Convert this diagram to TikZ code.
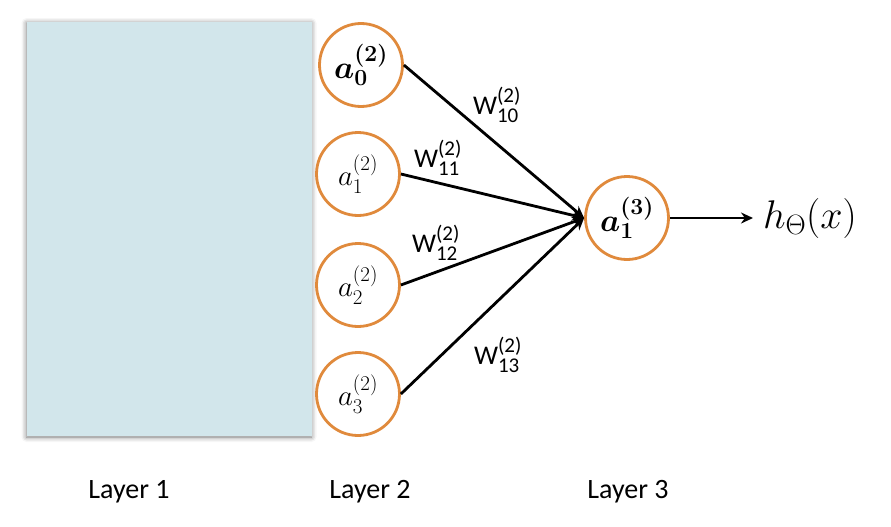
\RequirePackage{fix-cm}
\documentclass[tikz,border=0pt]{standalone}
\usepackage{amsmath}
\usepackage{bm}
\usepackage{fontspec}
\setmainfont{Carlito}
\usetikzlibrary{arrows.meta,shadows.blur}
\DeclareMathSizes{27}{27}{21}{16}
\DeclareMathSizes{29}{29}{21}{16}
\DeclareMathSizes{32}{32}{23}{18}
\DeclareMathSizes{40}{40}{28}{20}
\definecolor{boxfill}{HTML}{D2E6EB}
\definecolor{neuron}{HTML}{E08A3C}
\tikzset{
  unit/.style={circle, draw=neuron, line width=2.8pt, fill=white, minimum size=83pt, inner sep=0pt},
  mathtxt/.style={font=\fontsize{29}{29}\selectfont},
  boldtxt/.style={font=\fontsize{32}{32}\selectfont},
  wlab/.style={font=\fontsize{27}{27}\selectfont, inner sep=0pt},
  layerlab/.style={font=\fontsize{28}{28}\selectfont, inner sep=0pt},
  edge/.style={line width=2.8pt, -{Stealth[length=12pt,width=11pt]}},
  layerbox/.style={fill=boxfill, blur shadow={shadow xshift=-0.5pt, shadow yshift=-1pt, shadow blur radius=5pt, shadow opacity=55}}
}
\begin{document}
\begin{tikzpicture}[x=1pt,y=-1pt]
\useasboundingbox (0,0) rectangle (891,527);
\path[layerbox] (27,22) rectangle (312,436);

\node[unit, boldtxt] (a0) at (361,65) {$\bm{a}_{\bm{0}}^{\bm{(2)}}$};
\node[unit, mathtxt] (a1) at (358,174) {$a_1^{(2)}$};
\node[unit, mathtxt] (a2) at (358,285) {$a_2^{(2)}$};
\node[unit, mathtxt] (a3) at (358,394) {$a_3^{(2)}$};
\node[unit, boldtxt] (o) at (627,218) {$\bm{a}_{\bm{1}}^{\bm{(3)}}$};

\node[anchor=west, inner sep=0pt, outer xsep=10pt, font=\fontsize{40}{40}\selectfont] (hx) at (753,218) {$h_\Theta(x)$};

\draw[edge] (a0.east) -- (o.west);
\draw[edge] (a1.east) -- (o.west);
\draw[edge] (a2.east) -- (o.west);
\draw[edge] (a3.east) -- (o.west);
\draw[edge] (o) -- (hx.west);

\node[wlab] (w10) at (497,105) {W$^{\text{(2)}}_{\text{10}}$};
\node[wlab] (w11) at (438,158) {W$^{\text{(2)}}_{\text{11}}$};
\node[wlab] (w12) at (436,243) {W$^{\text{(2)}}_{\text{12}}$};
\node[wlab] (w13) at (498,355) {W$^{\text{(2)}}_{\text{13}}$};

\node[layerlab] (l1) at (129,492) {Layer 1};
\node[layerlab] (l2) at (370,492) {Layer 2};
\node[layerlab] (l3) at (628,492) {Layer 3};
\end{tikzpicture}
\end{document}
